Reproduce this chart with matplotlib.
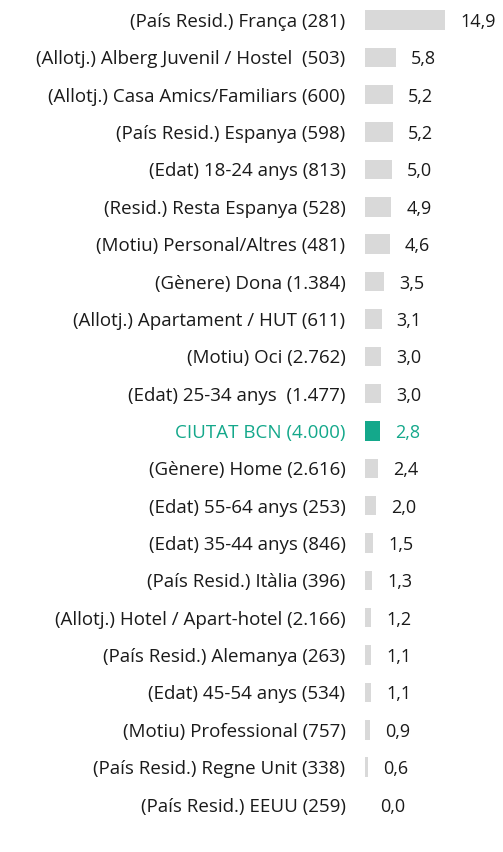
import matplotlib
matplotlib.use("Agg")
import matplotlib.pyplot as plt

labels = [
    "(País Resid.) França (281)",
    "(Allotj.) Alberg Juvenil / Hostel  (503)",
    "(Allotj.) Casa Amics/Familiars (600)",
    "(País Resid.) Espanya (598)",
    "(Edat) 18-24 anys (813)",
    "(Resid.) Resta Espanya (528)",
    "(Motiu) Personal/Altres (481)",
    "(Gènere) Dona (1.384)",
    "(Allotj.) Apartament / HUT (611)",
    "(Motiu) Oci (2.762)",
    "(Edat) 25-34 anys  (1.477)",
    "CIUTAT BCN (4.000)",
    "(Gènere) Home (2.616)",
    "(Edat) 55-64 anys (253)",
    "(Edat) 35-44 anys (846)",
    "(País Resid.) Itàlia (396)",
    "(Allotj.) Hotel / Apart-hotel (2.166)",
    "(País Resid.) Alemanya (263)",
    "(Edat) 45-54 anys (534)",
    "(Motiu) Professional (757)",
    "(País Resid.) Regne Unit (338)",
    "(País Resid.) EEUU (259)",
]
values = [14.9, 5.8, 5.2, 5.2, 5.0, 4.9, 4.6, 3.5, 3.1, 3.0, 3.0, 2.8,
          2.4, 2.0, 1.5, 1.3, 1.2, 1.1, 1.1, 0.9, 0.6, 0.0]
highlight = "CIUTAT BCN (4.000)"

grey = "#D9D9D9"
teal = "#14A88B"
txt = "#1A1A1A"

plt.rcParams['font.family'] = ['Open Sans', 'DejaVu Sans']

fig = plt.figure(figsize=(5.03, 8.52), dpi=100)
ax = fig.add_axes([365 / 503, 0, 138 / 503, 1])

step = 37.36
n = len(labels)
ypos = list(range(n))
colors = [teal if l == highlight else grey for l in labels]
ax.barh(ypos, values, height=0.52, color=colors)

for y, v, l in zip(ypos, values, labels):
    c = teal if l == highlight else txt
    ax.text(v + 15 / 5.37, y, f"{v:.1f}".replace(".", ","), va="center_baseline",
            ha="left", fontsize=13, color=c)

ax.set_xlim(0, 138 / 5.37)
ax.set_ylim((852 - 20) / step, -20 / step)
ax.set_yticks(ypos)
ax.set_yticklabels(labels, fontsize=13.5, va="center_baseline")
for t, l in zip(ax.get_yticklabels(), labels):
    t.set_color(teal if l == highlight else txt)
ax.tick_params(axis="y", length=0, pad=14)
ax.set_xticks([])
for s in ax.spines.values():
    s.set_visible(False)

fig.savefig("out.png", dpi=100)
